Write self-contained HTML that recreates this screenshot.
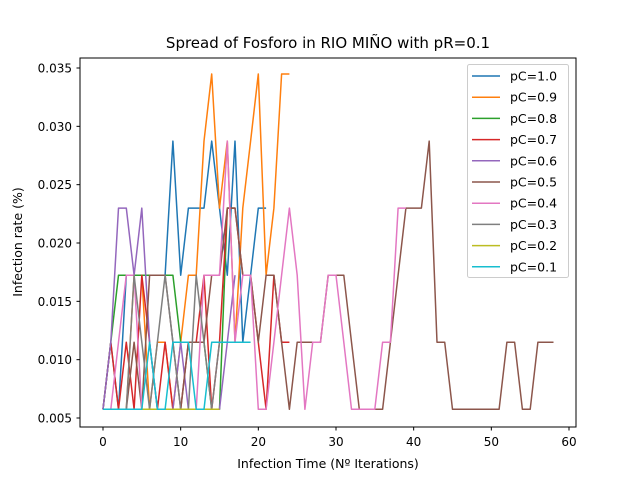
<!DOCTYPE html>
<html><head><meta charset="utf-8"><style>
body{margin:0;background:#fff;}
svg text{font-family:"DejaVu Sans","Liberation Sans",sans-serif;}
</style></head><body>
<svg id="c" width="640" height="480" viewBox="0 0 640 480">
<rect width="640" height="480" fill="#fff"/>
<text x="328" y="48" font-size="15" text-anchor="middle">Spread of Fosforo in RIO MIÑO with pR=0.1</text>
<g id="plot"></g>
<rect x="80" y="58" width="496" height="369" fill="none" stroke="#000" stroke-width="1"/>
<g id="xt"></g><g id="yt"></g>
<text x="328" y="468" font-size="12.5" text-anchor="middle">Infection Time (Nº Iterations)</text>
<text x="0" y="0" font-size="12.5" text-anchor="middle" transform="translate(22,242) rotate(-90)">Infection rate (%)</text>
<g id="legend"></g>
</svg>
<script>
const seriesLabels=["pC=1.0","pC=0.9","pC=0.8","pC=0.7","pC=0.6","pC=0.5","pC=0.4","pC=0.3","pC=0.2","pC=0.1"];
const colors=["#1f77b4","#ff7f0e","#2ca02c","#d62728","#9467bd","#8c564b","#e377c2","#7f7f7f","#bcbd22","#17becf"];
const unit=1/174;
const s10=[1,2,1,3,3,3,3,3,3,5,3,4,4,4,5,4,3,5,2,3,4,4];
const s09=[1,1,1,1,3,3,1,2,2,1,2,3,3,5,6,4,5,2,4,5,6,3,4,6,6];
const s08=[1,2,3,3,3,3,3,3,3,3,2,2,2,2,1,1,4,4];
const s07=[1,2,1,2,1,3,2,1,2,1,1,2,2,3,1,2,4,4,3,3,2,1,3,2,2];
const s06=[1,2,4,4,3,4,2,1,1,1,2,1,1,1,1,1,2,3];
const s05=[1,1,1,1,2,1,3,3,3,2,1,2,2,2,3,3,4,4,3,3,2,3,3,2,1,2,2,2,2,3,3,3,2,1,1,1,1,2,3,4,4,4,5,2,2,1,1,1,1,1,1,1,2,2,1,1,2,2,2];
const s04=[1,1,2,3,3,1,1,1,1,1,1,1,1,3,3,3,5,2,3,3,1,1,2,3,4,3,1,2,2,3,3,2,1,1,1,1,2,2,4,4];
const s03=[1,1,1,1,3,2,1,2,3,2,1,1,3,2,1,2,2];
const s02=[1,1,1,1,1,1,1,1,1,1,1,1,1,1,1,1];
const s01=[1,1,1,1,1,1,2,1,1,2,2,2,1,1,2,2,2,2,2,2];
const allSeries=[s10,s09,s08,s07,s06,s05,s04,s03,s02,s01];
const xTicks=[0,10,20,30,40,50,60];
const yTicks=[0.005,0.010,0.015,0.020,0.025,0.030,0.035];
const NS="http://www.w3.org/2000/svg";
function xs(v){return 103+v*(569-103)/60;}
function ys(v){return 418-(v-0.005)*(350/0.03);}
function mk(t,a,p){const e=document.createElementNS(NS,t);for(const k in a)e.setAttribute(k,a[k]);p.appendChild(e);return e;}
const plot=document.getElementById('plot');
allSeries.forEach((s,i)=>{
  const pts=s.map((k,j)=>xs(j).toFixed(1)+","+ys(k*unit).toFixed(1)).join(" ");
  const l=mk('polyline',{points:pts,fill:'none',stroke:colors[i],'stroke-width':1.5,'stroke-linejoin':'round'},plot);
  
  
});
const xt=document.getElementById('xt');
xTicks.forEach(v=>{
  const x=xs(v);
  mk('line',{x1:x,x2:x,y1:427,y2:430.5,stroke:'#000'},xt);
  const t=mk('text',{x:x,y:446,'font-size':12,'text-anchor':'middle'},xt);t.textContent=v;
  
  
});
const yt=document.getElementById('yt');
yTicks.forEach(v=>{
  const y=ys(v);
  mk('line',{x1:76.5,x2:80,y1:y,y2:y,stroke:'#000'},yt);
  const t=mk('text',{x:72,y:y+4.5,'font-size':12,'text-anchor':'end'},yt);t.textContent=v.toFixed(3);
  
  
});
const lg=document.getElementById('legend');
mk('rect',{x:467.5,y:64.5,width:101,height:213,rx:2,fill:'#fff','fill-opacity':0.8,stroke:'#ccc'},lg);
seriesLabels.forEach((n,i)=>{
  const y=76+i*21.2;
  const g=mk('g',{},lg);
  
  
  mk('line',{x1:472,x2:500,y1:y,y2:y,stroke:colors[i],'stroke-width':1.5},g);
  const t=mk('text',{x:510,y:y+4.5,'font-size':12.5},g);t.textContent=n;
});
</script>
</body></html>
